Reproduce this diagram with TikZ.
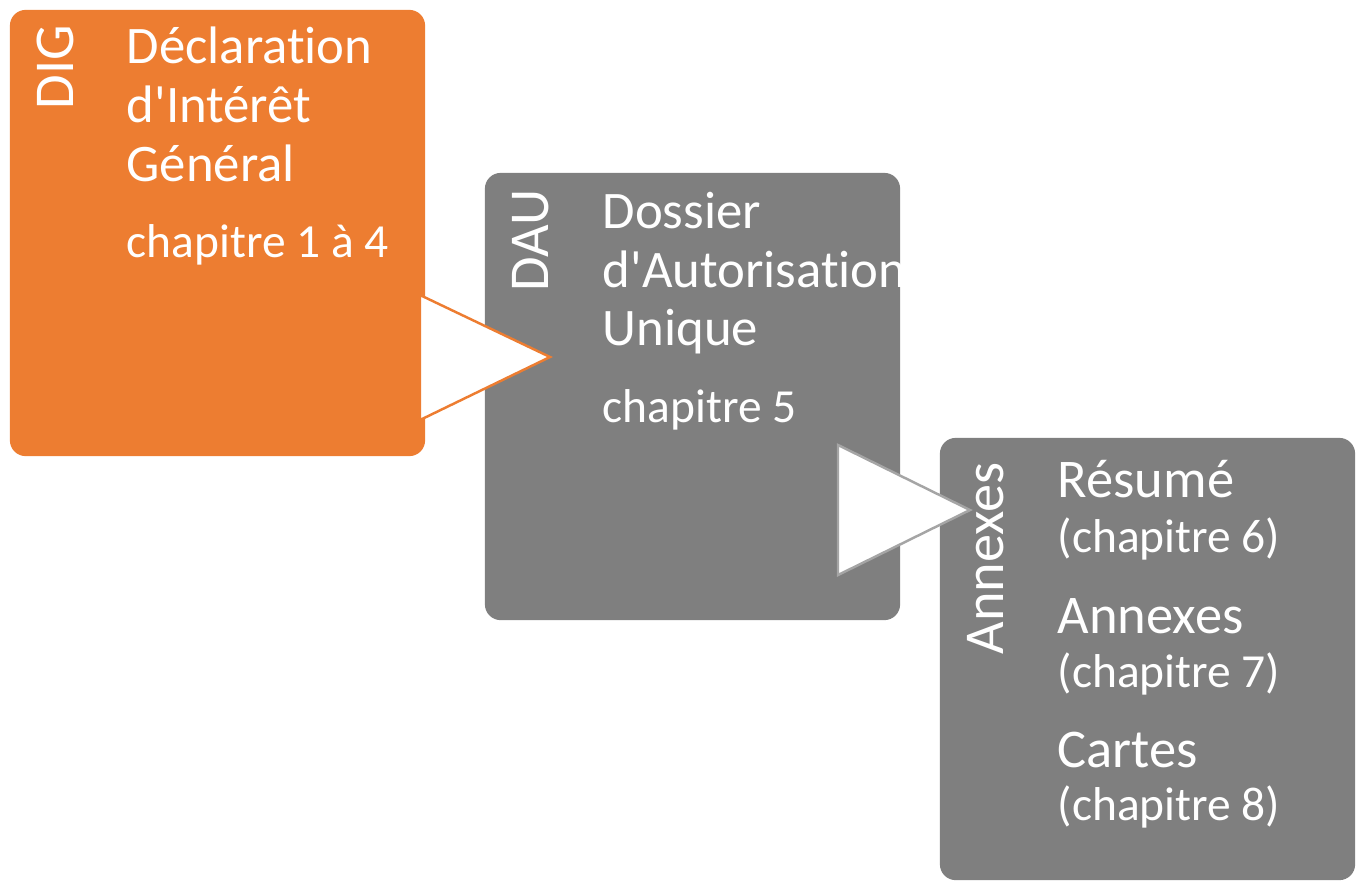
\documentclass[tikz,border=0pt]{standalone}
\usepackage{fontspec}
\setmainfont{Carlito}[Ligatures={TeXOff,CommonOff}]
\usepackage{tikz}
\usetikzlibrary{positioning}

\definecolor{digorange}{HTML}{ED7D31}
\definecolor{daugray}{HTML}{7F7F7F}
\definecolor{tipgray}{HTML}{A5A5A5}

\tikzset{
  bloc/.style={rounded corners=4.5pt, minimum width=4.15cm, inner sep=0pt},
  titre/.style={text=white, anchor=base west, inner sep=0pt, font=\fontsize{15pt}{18pt}\selectfont},
  titreb/.style={titre, font=\fontsize{15.5pt}{18pt}\selectfont},
  chap/.style={text=white, anchor=base west, inner sep=0pt, font=\fontsize{13.5pt}{16pt}\selectfont},
  sigle/.style={text=white, anchor=base west, inner sep=0pt, rotate=90, font=\fontsize{16pt}{19pt}\selectfont},
  fleche/.style={fill=white, line width=0.7pt, line join=miter}
}

\begin{document}
\begin{tikzpicture}[x=0.01cm, y=-0.01cm]
        \useasboundingbox (0,0) rectangle (1358,881);

        % Les trois blocs
        \node[bloc, fill=digorange, minimum height=4.46cm] (dig) at (217.5,233) {};
        \node[bloc, fill=daugray, minimum height=4.47cm] (dau) at (692.5,396.5) {};
        \node[bloc, fill=daugray, minimum height=4.42cm] (anx) at (1147.5,659) {};

        % Fleches entre les blocs
        \draw[fleche, draw=digorange] (420,295) -- (550,357) -- (420,420) -- cycle;
        \draw[fleche, draw=tipgray] (838,445) -- (970,510) -- (838,575) -- cycle;

        % Bloc DIG
        \node[sigle] (digS) at (73,110) {DIG};
        \node[titre] (digT1) at (126,63) {Déclaration};
        \node[titre] (digT2) at (126,122) {d'Intérêt};
        \node[titre] (digT3) at (126,181) {Général};
        \node[chap] (digC) at (126,257) {chapitre 1 à 4};

        % Bloc DAU
        \node[sigle] (dauS) at (548,292) {DAU};
        \node[titre] (dauT1) at (602,228) {Dossier};
        \node[titre] (dauT2) at (602,287) {d'Autorisation};
        \node[titre] (dauT3) at (602,345) {Unique};
        \node[chap] (dauC) at (602,422) {chapitre 5};

        % Bloc Annexes
        \node[sigle] (anxS) at (1003,655) {Annexes};
        \node[titreb] (anxT1) at (1057,497) {Résumé};
        \node[chap] (anxC1) at (1057,552) {(chapitre 6)};
        \node[titreb] (anxT2) at (1057,633) {Annexes};
        \node[chap] (anxC2) at (1057,687) {(chapitre 7)};
        \node[titreb] (anxT3) at (1057,767) {Cartes};
        \node[chap] (anxC3) at (1057,820) {(chapitre 8)};
\end{tikzpicture}
\end{document}
